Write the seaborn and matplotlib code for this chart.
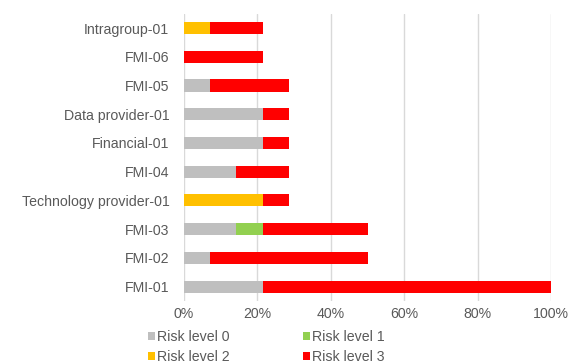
import matplotlib
matplotlib.use("Agg")
import matplotlib.pyplot as plt
from matplotlib.patches import Patch
from matplotlib.ticker import PercentFormatter
import numpy as np
import pandas as pd
import seaborn as sns

# Share of assessed items per risk level, in percent
categories = [
    "Intragroup-01", "FMI-06", "FMI-05", "Data provider-01", "Financial-01",
    "FMI-04", "Technology provider-01", "FMI-03", "FMI-02", "FMI-01",
]
risk_level_0 = [0.00, 0.00, 7.14, 21.43, 21.43, 14.29, 0.00, 14.29, 7.14, 21.43]
risk_level_1 = [0.00, 0.00, 0.00, 0.00, 0.00, 0.00, 0.00, 7.14, 0.00, 0.00]
risk_level_2 = [7.14, 0.00, 0.00, 0.00, 0.00, 0.00, 21.43, 0.00, 0.00, 0.00]
risk_level_3 = [14.29, 21.43, 21.43, 7.14, 7.14, 14.29, 7.14, 28.57, 42.86, 78.57]

series_names = ["Risk level 0", "Risk level 1", "Risk level 2", "Risk level 3"]
series_colors = ["#BFBFBF", "#92D050", "#FFC000", "#FF0000"]
x_ticks = [0, 20, 40, 60, 80, 100]

sns.set_theme(style="white")
plt.rcParams["font.family"] = ["Liberation Sans", "DejaVu Sans"]
text_color = "#595959"
fs = 10.2

df = pd.DataFrame({
    "category": categories,
    series_names[0]: risk_level_0,
    series_names[1]: risk_level_1,
    series_names[2]: risk_level_2,
    series_names[3]: risk_level_3,
})
# Running totals so each segment is drawn as an overlay from zero
cum = df[series_names].cumsum(axis=1)

fig = plt.figure(figsize=(5.68, 3.64), dpi=100)
ax = fig.add_axes([184 / 568, 1 - 301 / 364, (551 - 184) / 568, (301 - 13.7) / 364])

for name, color in reversed(list(zip(series_names, series_colors))):
    sns.barplot(
        x=cum[name], y=df["category"], orient="h", color=color,
        width=0.42, saturation=1, linewidth=0, ax=ax,
    )

ax.set_xlim(0, 100)
ax.set_ylim(len(categories) - 0.5, -0.5)
ax.set_xticks(x_ticks)
ax.xaxis.set_major_formatter(PercentFormatter(decimals=0))
ax.set_xlabel("")
ax.set_ylabel("")
ax.set_axisbelow(True)
ax.grid(axis="x", color="#D9D9D9", linewidth=1.0)
ax.grid(axis="y", visible=False)
for s in ax.spines.values():
    s.set_visible(False)
ax.tick_params(axis="x", length=0, pad=4, labelsize=fs, labelcolor=text_color)
ax.tick_params(axis="y", length=0, pad=10.5, labelsize=fs, labelcolor=text_color)

handles = [Patch(facecolor=c, edgecolor="none") for c in series_colors]
order = [0, 2, 1, 3]
fig.legend(
    [handles[i] for i in order], [series_names[i] for i in order],
    ncol=2, loc="upper left", bbox_to_anchor=(147.5 / 568, 1 - 330 / 364),
    frameon=False, fontsize=fs, labelcolor=text_color,
    handlelength=0.5, handleheight=0.5, handletextpad=0.15,
    columnspacing=5.2, labelspacing=0.42, borderpad=0, borderaxespad=0,
)

fig.savefig("out.png", dpi=100)
